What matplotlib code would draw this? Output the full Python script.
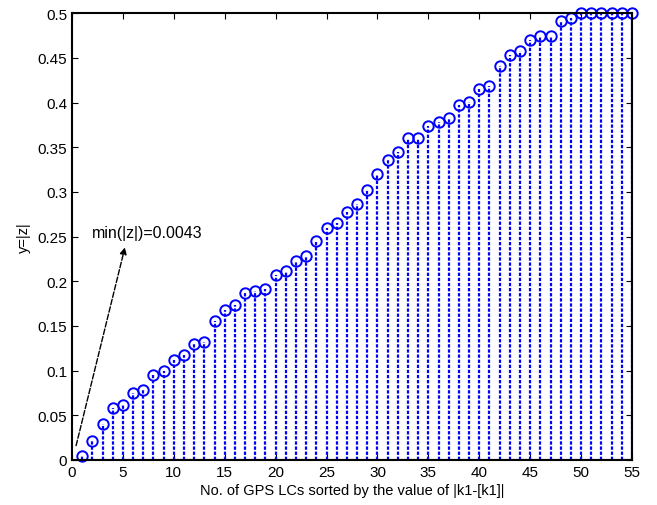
import matplotlib
matplotlib.use("Agg")
import matplotlib.pyplot as plt
import numpy as np

plt.rcParams['font.family'] = ['Liberation Sans', 'DejaVu Sans']

lc_index = list(range(1, 56))
z_abs = [0.0043, 0.021, 0.040, 0.058, 0.062, 0.075, 0.078, 0.095, 0.100, 0.112,
         0.117, 0.130, 0.132, 0.155, 0.168, 0.173, 0.187, 0.189, 0.191, 0.207,
         0.211, 0.223, 0.228, 0.245, 0.260, 0.265, 0.278, 0.287, 0.302, 0.320,
         0.336, 0.345, 0.360, 0.360, 0.374, 0.378, 0.383, 0.397, 0.401, 0.415,
         0.419, 0.441, 0.453, 0.458, 0.470, 0.475, 0.475, 0.491, 0.495, 0.500,
         0.500, 0.500, 0.500, 0.500, 0.500]
note_text = "min(|z|)=0.0043"

fig = plt.figure(figsize=(6.57, 5.06), dpi=100)
ax = fig.add_axes([0.1096, 0.089, 0.8524, 0.883])

markerline, stemlines, baseline = ax.stem(lc_index, z_abs, linefmt='b-', markerfmt='bo', basefmt='k-')
markerline.set_markerfacecolor('none')
markerline.set_markersize(7.5)
markerline.set_markeredgewidth(1.4)
markerline.set_clip_on(False)
stemlines.set_linewidth(1.6)
stemlines.set_linestyle((0, (1.5, 0.8)))

# arrow pointing from the smallest value up to the label
ax.annotate('', xy=(5.2, 0.238), xytext=(0.4, 0.016),
            arrowprops=dict(arrowstyle='-|>', color='black', lw=1, linestyle=(0, (4, 1.5)),
                            shrinkA=0, shrinkB=0, mutation_scale=10))
ax.text(1.95, 0.255, note_text, fontsize=11.5, va='center', ha='left')

ax.set_xlim(0, 55)
ax.set_ylim(0, 0.5)
ax.set_xticks(np.arange(0, 56, 5))
ax.set_yticks(np.arange(0, 0.51, 0.05))
ax.set_yticklabels(['0', '0.05', '0.1', '0.15', '0.2', '0.25', '0.3', '0.35', '0.4', '0.45', '0.5'])
ax.tick_params(direction='in', top=True, right=True, labelsize=11, length=4)
for s in ax.spines.values():
    s.set_linewidth(1.5)

ax.set_xlabel("No. of GPS LCs sorted by the value of |k1-[k1]|", fontsize=10.5, labelpad=3)
ax.set_ylabel("y=|z|", fontsize=10.5, labelpad=5)

fig.savefig("out.png", dpi=100)
